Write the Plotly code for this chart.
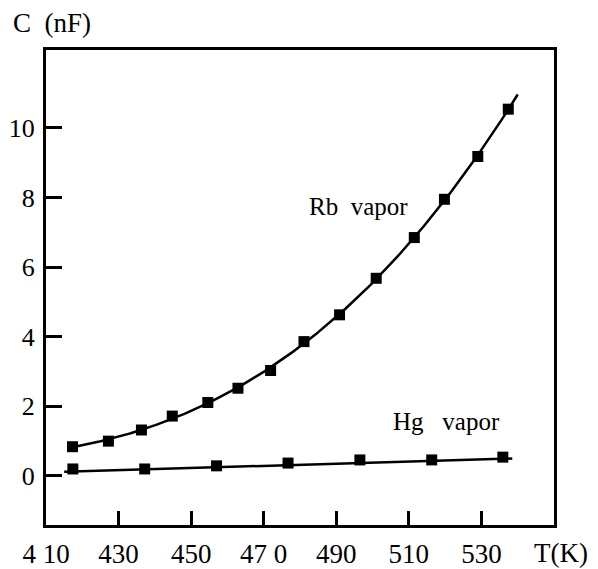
import numpy as np
import plotly.graph_objects as go

# --- data ---
rb_T = [417.3, 427.2, 436.3, 444.8, 454.6, 462.9, 471.9, 481.1, 490.9, 501.0, 511.5, 519.8, 529.0, 537.4]
rb_C = [0.84, 1.00, 1.32, 1.72, 2.11, 2.52, 3.03, 3.86, 4.63, 5.68, 6.85, 7.95, 9.18, 10.54]
hg_T = [417.4, 437.2, 457.0, 476.7, 496.5, 516.3, 535.9]
hg_C = [0.20, 0.20, 0.29, 0.37, 0.46, 0.46, 0.54]

x_tickvals = [410, 430, 450, 470, 490, 510, 530]
x_ticktext = ["4 10", "430", "450", "47 0", "490", "510", "530"]
y_tickvals = [0, 2, 4, 6, 8, 10]

FONT = "Liberation Serif"

# smooth curves fitted to the points
rb_fit = np.polyfit(rb_T, rb_C, 3)
rb_x = np.linspace(rb_T[0], 540, 200)
rb_y = np.polyval(rb_fit, rb_x)
hg_fit = np.polyfit(hg_T, hg_C, 1)
hg_x = np.linspace(415, 538.5, 50)
hg_y = np.polyval(hg_fit, hg_x) - 0.05

fig = go.Figure()
fig.add_trace(go.Scatter(x=rb_x, y=rb_y, mode="lines", line=dict(color="black", width=2.5),
                         showlegend=False, hoverinfo="skip"))
fig.add_trace(go.Scatter(x=hg_x, y=hg_y, mode="lines", line=dict(color="black", width=2.5),
                         showlegend=False, hoverinfo="skip"))
fig.add_trace(go.Scatter(x=rb_T, y=rb_C, mode="markers",
                         marker=dict(symbol="square", size=11, color="black"),
                         showlegend=False, name="Rb vapor"))
fig.add_trace(go.Scatter(x=hg_T, y=hg_C, mode="markers",
                         marker=dict(symbol="square", size=11, color="black"),
                         showlegend=False, name="Hg vapor"))

fig.update_layout(
    width=590, height=561,
    margin=dict(l=38, r=44, t=42, b=44),
    paper_bgcolor="white", plot_bgcolor="white",
    font=dict(family=FONT, color="black", size=26),
    xaxis=dict(range=[410, 550], tickvals=x_tickvals, ticktext=x_ticktext,
               ticks="inside", ticklen=14, tickwidth=3, tickcolor="black",
               showline=True, linecolor="black", linewidth=3, mirror=True,
               showgrid=False, zeroline=False, automargin=False,
               tickfont=dict(family=FONT, size=27, color="black"),
               ticklabelstandoff=3),
    yaxis=dict(range=[-1.41, 12.24], tickvals=y_tickvals,
               ticks="inside", ticklen=16, tickwidth=3, tickcolor="black",
               showline=True, linecolor="black", linewidth=3, mirror=True,
               showgrid=False, zeroline=False, automargin=False,
               tickfont=dict(family=FONT, size=26, color="black"),
               ticklabelstandoff=3),
)

fig.add_annotation(text="Rb\u00a0\u00a0vapor", x=496, y=7.73, xref="x", yref="y",
                   showarrow=False, font=dict(family=FONT, size=25, color="black"))
fig.add_annotation(text="Hg\u00a0\u00a0\u00a0vapor", x=520.3, y=1.57, xref="x", yref="y",
                   showarrow=False, font=dict(family=FONT, size=25, color="black"))
fig.add_annotation(text="C\u00a0\u00a0(nF)", x=-0.069, y=1.057, xref="paper", yref="paper",
                   xanchor="left", yanchor="middle", showarrow=False,
                   font=dict(family=FONT, size=27, color="black"))
fig.add_annotation(text="T(K)", x=0.957, y=-0.059, xref="paper", yref="paper",
                   xanchor="left", yanchor="middle", showarrow=False,
                   font=dict(family=FONT, size=27, color="black"))

fig.write_html("out.html")
